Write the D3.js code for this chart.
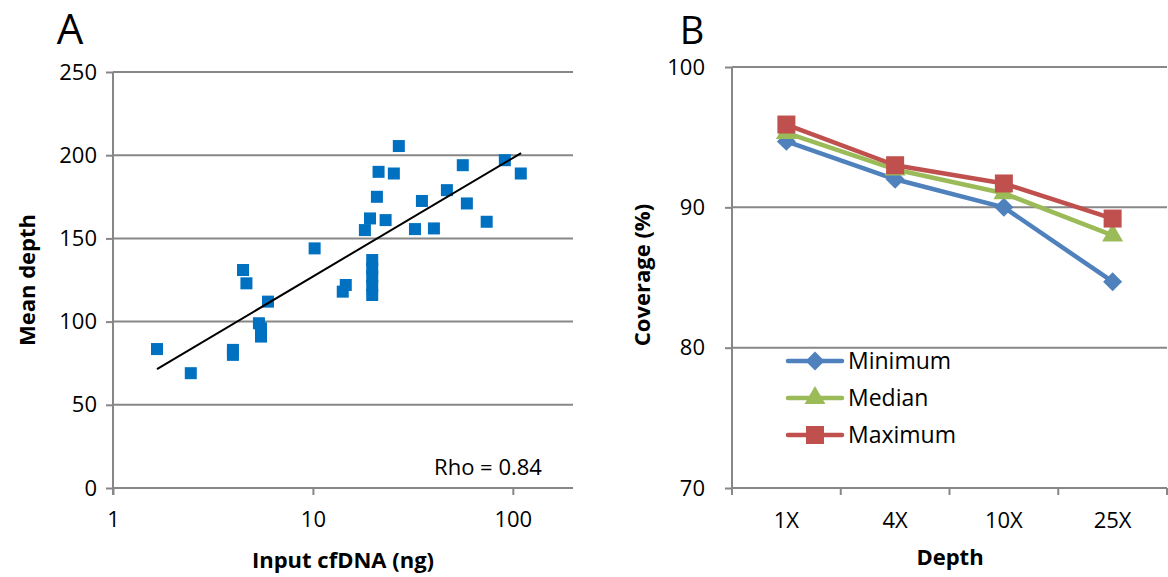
<!DOCTYPE html>
<html>
<head>
<meta charset="utf-8">
<script src="https://cdn.jsdelivr.net/npm/d3@7"></script>
<style>
  body { margin: 0; background: #fff; }
  text { font-family: "Open Sans", sans-serif; fill: #000; }
</style>
</head>
<body>
<div id="chart"></div>
<script>
// Panel A data: input cfDNA (ng) vs mean depth
const inputNg = [1.66, 2.45, 3.98, 3.98, 4.47, 4.65, 5.37, 5.5, 5.5, 5.96,
  10.2, 14.1, 14.6, 18.2, 19.3, 19.8, 19.8, 19.8, 19.8, 19.8,
  20.9, 21.3, 23.1, 25.4, 26.9, 32.4, 35.1, 40.3, 46.8, 56.2,
  58.9, 74, 91.2, 109.6];
const meanDepth = [83.5, 69, 83, 80, 131, 123, 99, 96, 91, 112,
  144, 118, 122, 155, 162, 137, 132, 127, 121.5, 116,
  175, 190, 161, 189, 205.5, 155.6, 172.5, 156, 179, 194,
  171, 160, 197, 189];
const trendX = [1.66, 110];
const trendY = [71.5, 201.3];
const yTicksA = [0, 50, 100, 150, 200, 250];
const xTicksA = [1, 10, 100];

// Panel B data: coverage by depth
const depths = ["1X", "4X", "10X", "25X"];
const minimum = [94.7, 92.0, 90.0, 84.7];
const median = [95.3, 92.7, 91.0, 88.0];
const maximum = [95.9, 93.0, 91.7, 89.2];
const yTicksB = [70, 80, 90, 100];

const W = 1168, H = 577;
const grid = "#878787";
const font = "'Open Sans', sans-serif";

const svg = d3.select("#chart").append("svg")
    .attr("width", W)
    .attr("height", H);

function styleAxis(ax) {
  ax.select(".domain").attr("stroke", grid).attr("stroke-width", 2);
  ax.selectAll(".tick line").attr("stroke", grid).attr("stroke-width", 2);
  ax.selectAll(".tick text").attr("font-size", 22).attr("fill", "#000")
    .style("font-family", font);
}

// ---------- Panel A ----------
const xA = d3.scaleLog().domain([1, 200]).range([113, 573]);
const yA = d3.scaleLinear().domain([0, 250]).range([488, 72]);

const gA = svg.append("g");

gA.selectAll(".gridA")
    .data(yTicksA.filter(d => d > 0))
    .join("line")
    .attr("x1", xA(1)).attr("x2", xA(200))
    .attr("y1", d => yA(d)).attr("y2", d => yA(d))
    .attr("stroke", grid).attr("stroke-width", 2);

const yAxisA = gA.append("g")
    .attr("transform", `translate(${xA(1)},0)`)
    .call(d3.axisLeft(yA).tickValues(yTicksA).tickSize(7).tickPadding(9));

const xAxisA = gA.append("g")
    .attr("transform", `translate(0,${yA(0)})`)
    .call(d3.axisBottom(xA).tickValues(xTicksA).tickFormat(d3.format("d")).tickSize(7).tickPadding(16));

styleAxis(yAxisA);
styleAxis(xAxisA);
xAxisA.select(".domain").attr("d", `M${xA(1)},7V0H${xA(200)}`);
yAxisA.select(".domain").attr("d", `M0,${yA(250)}V${yA(0) + 7}`);

const pts = inputNg.map((x, i) => ({x, y: meanDepth[i]}));
gA.selectAll(".pt")
    .data(pts)
    .join("rect")
    .attr("x", d => xA(d.x) - 6)
    .attr("y", d => yA(d.y) - 6)
    .attr("width", 12).attr("height", 12)
    .attr("fill", "#0070C0");

gA.append("line")
    .attr("x1", xA(trendX[0])).attr("y1", yA(trendY[0]))
    .attr("x2", xA(trendX[1])).attr("y2", yA(trendY[1]))
    .attr("stroke", "#000").attr("stroke-width", 2);

gA.append("text")
    .attr("x", 488).attr("y", 475)
    .attr("text-anchor", "middle").attr("font-size", 22)
    .text("Rho = 0.84");

gA.append("text")
    .attr("x", 70).attr("y", 44)
    .attr("text-anchor", "middle").attr("font-size", 42)
    .text("A");

gA.append("text")
    .attr("transform", "translate(35,280) rotate(-90)")
    .attr("text-anchor", "middle").attr("font-size", 22).attr("font-weight", "bold")
    .text("Mean depth");

gA.append("text")
    .attr("x", 343).attr("y", 568)
    .attr("text-anchor", "middle").attr("font-size", 22).attr("font-weight", "bold")
    .text("Input cfDNA (ng)");

// ---------- Panel B ----------
const xB = d3.scaleBand().domain(depths).range([732, 1167]);
const yB = d3.scaleLinear().domain([70, 100]).range([488, 67]);

const gB = svg.append("g");

gB.selectAll(".gridB")
    .data(yTicksB.filter(d => d > 70))
    .join("line")
    .attr("x1", 732).attr("x2", 1167)
    .attr("y1", d => yB(d)).attr("y2", d => yB(d))
    .attr("stroke", grid).attr("stroke-width", 2);

const yAxisB = gB.append("g")
    .attr("transform", "translate(732,0)")
    .call(d3.axisLeft(yB).tickValues(yTicksB).tickSize(7).tickPadding(20));

const xAxisB = gB.append("g")
    .attr("transform", `translate(0,${yB(70)})`)
    .call(d3.axisBottom(xB).tickSize(0).tickPadding(24));

styleAxis(yAxisB);
styleAxis(xAxisB);
yAxisB.select(".domain").attr("d", `M0,${yB(100)}V${yB(70) + 7}`);
xAxisB.select(".domain").attr("d", `M732,0H1167`);

// category boundary ticks
const bounds = depths.map(d => xB(d)).concat([xB.range()[1]]);
gB.selectAll(".btick")
    .data(bounds)
    .join("line")
    .attr("x1", d => d).attr("x2", d => d)
    .attr("y1", yB(70)).attr("y2", yB(70) + 7)
    .attr("stroke", grid).attr("stroke-width", 2);

const series = [
  {name: "Minimum", values: minimum, color: "#4F81BD", shape: "diamond"},
  {name: "Median", values: median, color: "#9BBB59", shape: "triangle"},
  {name: "Maximum", values: maximum, color: "#C0504D", shape: "square"}
];

const cx = d => xB(d) + xB.bandwidth() / 2;
const line = d3.line().x(d => cx(d.cat)).y(d => yB(d.v));

function marker(sel, s) {
  if (s.shape === "diamond") {
    sel.attr("d", d3.symbol(d3.symbolSquare, 180)()).attr("transform", d => `translate(${d[0]},${d[1]}) rotate(45)`);
  } else if (s.shape === "triangle") {
    sel.attr("d", d3.symbol(d3.symbolTriangle, 190)()).attr("transform", d => `translate(${d[0]},${d[1]})`);
  } else {
    sel.attr("d", d3.symbol(d3.symbolSquare, 324)()).attr("transform", d => `translate(${d[0]},${d[1]})`);
  }
  sel.attr("fill", s.color);
}

series.forEach(s => {
  const data = depths.map((c, i) => ({cat: c, v: s.values[i]}));
  gB.append("path")
      .datum(data)
      .attr("d", line)
      .attr("fill", "none")
      .attr("stroke", s.color)
      .attr("stroke-width", 4.5)
      .attr("stroke-linejoin", "round");
  gB.selectAll(null)
      .data(data.map(d => [cx(d.cat), yB(d.v)]))
      .join("path")
      .call(marker, s);
});

// legend
const legendY = [361, 398, 435];
series.forEach((s, i) => {
  const lg = gB.append("g");
  lg.append("line")
      .attr("x1", 788).attr("x2", 842)
      .attr("y1", legendY[i]).attr("y2", legendY[i])
      .attr("stroke", s.color).attr("stroke-width", 4.5).attr("stroke-linecap", "round");
  lg.selectAll(null)
      .data([[815, legendY[i]]])
      .join("path")
      .call(marker, s);
  lg.append("text")
      .attr("x", 848).attr("y", legendY[i] + 8)
      .attr("font-size", 23)
      .text(s.name);
});

gB.append("text")
    .attr("x", 692).attr("y", 44)
    .attr("text-anchor", "middle").attr("font-size", 38)
    .text("B");

gB.append("text")
    .attr("transform", "translate(650,275) rotate(-90)")
    .attr("text-anchor", "middle").attr("font-size", 22).attr("font-weight", "bold")
    .text("Coverage (%)");

gB.append("text")
    .attr("x", 950).attr("y", 565)
    .attr("text-anchor", "middle").attr("font-size", 22).attr("font-weight", "bold")
    .text("Depth");
</script>
</body>
</html>
